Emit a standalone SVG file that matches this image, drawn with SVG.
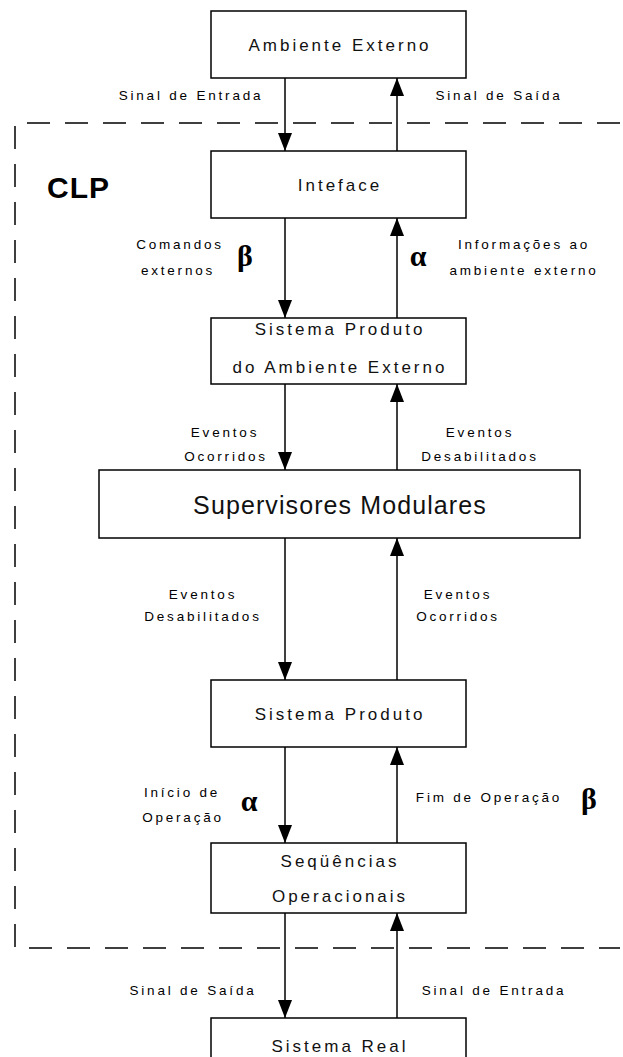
<svg xmlns="http://www.w3.org/2000/svg" width="623" height="1057" viewBox="0 0 623 1057">
<style>
.box{fill:#fff;stroke:#000;stroke-width:1.5}
.bt{font-family:"Liberation Sans",Arial,sans-serif;font-size:17px;letter-spacing:3px;fill:#111;text-anchor:middle}
.big{font-family:"Liberation Sans",Arial,sans-serif;font-size:25px;letter-spacing:1.1px;fill:#111;text-anchor:middle}
.lb{font-family:"Liberation Sans",Arial,sans-serif;font-size:13.5px;letter-spacing:2.8px;fill:#000;text-anchor:middle}
.gr{font-family:"Liberation Serif","Times New Roman",serif;font-size:30px;font-weight:bold;fill:#000;text-anchor:middle}
.clp{font-family:"Liberation Sans",Arial,sans-serif;font-size:30px;font-weight:bold;fill:#000;letter-spacing:1px}
.ln{stroke:#000;stroke-width:1.5;fill:none;marker-end:url(#ah)}
.dash{stroke:#000;stroke-width:1.5;fill:none;stroke-dasharray:23 15}
</style>
<defs>
<marker id="ah" viewBox="0 0 18 14" refX="18" refY="7" markerWidth="18" markerHeight="14" markerUnits="userSpaceOnUse" orient="auto">
<path d="M0,0 L18,7 L0,14 z" fill="#000"/>
</marker>
</defs>
<rect width="623" height="1057" fill="#fff"/>
<g id="clp-boundary">
<path class="dash" d="M620 123 H15 V948 H620"/>
<text class="clp" x="47" y="198">CLP</text>
</g>
<g id="connectors">
<line class="ln" x1="285" y1="78" x2="285" y2="151"/>
<line class="ln" x1="397" y1="151" x2="397" y2="78"/>
<line class="ln" x1="285" y1="218" x2="285" y2="318"/>
<line class="ln" x1="397" y1="318" x2="397" y2="218"/>
<line class="ln" x1="285" y1="384" x2="285" y2="470"/>
<line class="ln" x1="397" y1="470" x2="397" y2="384"/>
<line class="ln" x1="285" y1="538" x2="285" y2="680"/>
<line class="ln" x1="397" y1="680" x2="397" y2="538"/>
<line class="ln" x1="285" y1="747" x2="285" y2="843"/>
<line class="ln" x1="397" y1="843" x2="397" y2="747"/>
<line class="ln" x1="285" y1="913" x2="285" y2="1018"/>
<line class="ln" x1="397" y1="1018" x2="397" y2="913"/>
</g>
<g id="labels">
<text class="lb" x="191" y="100">Sinal de Entrada</text>
<text class="lb" x="499" y="100">Sinal de Saída</text>
<text class="lb" x="180" y="249">Comandos</text>
<text class="lb" x="178" y="275">externos</text>
<text class="gr" x="245" y="266">β</text>
<text class="gr" x="418" y="266">α</text>
<text class="lb" x="524" y="249">Informações ao</text>
<text class="lb" x="524" y="275">ambiente externo</text>
<text class="lb" x="225" y="437">Eventos</text>
<text class="lb" x="226" y="461">Ocorridos</text>
<text class="lb" x="480" y="437">Eventos</text>
<text class="lb" x="480" y="461">Desabilitados</text>
<text class="lb" x="203" y="599">Eventos</text>
<text class="lb" x="203" y="621">Desabilitados</text>
<text class="lb" x="458" y="599">Eventos</text>
<text class="lb" x="458" y="621">Ocorridos</text>
<text class="lb" x="182" y="797">Início de</text>
<text class="lb" x="183" y="822">Operação</text>
<text class="gr" x="249" y="811">α</text>
<text class="lb" x="489" y="802">Fim de Operação</text>
<text class="gr" x="589" y="809">β</text>
<text class="lb" x="193" y="995">Sinal de Saída</text>
<text class="lb" x="494" y="995">Sinal de Entrada</text>
</g>
<g id="ambiente-externo">
<rect class="box" x="211" y="11" width="255" height="67"/>
<text class="bt" x="340" y="51">Ambiente Externo</text>
</g>
<g id="interface">
<rect class="box" x="211" y="151" width="255" height="67"/>
<text class="bt" x="340" y="191">Inteface</text>
</g>
<g id="sistema-produto-ae">
<rect class="box" x="211" y="318" width="255" height="66"/>
<text class="bt" x="340" y="335">Sistema Produto</text>
<text class="bt" x="340" y="373">do Ambiente Externo</text>
</g>
<g id="supervisores">
<rect class="box" x="99" y="470" width="481" height="68"/>
<text class="big" x="340" y="514">Supervisores Modulares</text>
</g>
<g id="sistema-produto">
<rect class="box" x="211" y="680" width="255" height="67"/>
<text class="bt" x="340" y="720">Sistema Produto</text>
</g>
<g id="sequencias">
<rect class="box" x="211" y="843" width="255" height="70"/>
<text class="bt" x="340" y="867">Seqüências</text>
<text class="bt" x="340" y="902">Operacionais</text>
</g>
<g id="sistema-real">
<rect class="box" x="211" y="1018" width="255" height="60"/>
<text class="bt" x="340" y="1052">Sistema Real</text>
</g>
</svg>
